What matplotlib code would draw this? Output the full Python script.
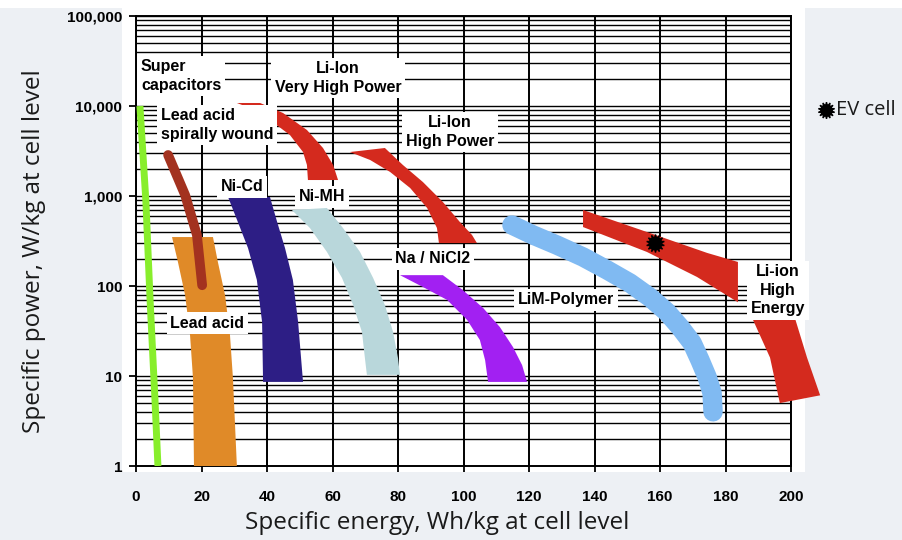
import numpy as np
import matplotlib.pyplot as plt
from matplotlib.patches import Rectangle
from matplotlib.ticker import LogLocator, NullFormatter

# Ragone chart: specific energy (Wh/kg) vs specific power (W/kg)
supercap_e = [1.2, 3.0, 4.3, 5.8, 6.7]
supercap_p = [10000, 900, 70, 5.4, 1]

spiral_e = [9.8, 15.0, 18.6, 20.2]
spiral_p = [2855, 1025, 369, 102]

lead_e = [11.0, 12.8, 15.0, 16.5, 17.4, 17.7, 30.8, 29.6, 28.7, 27.2, 25.0, 23.5]
lead_p = [350, 185, 79, 28.5, 9.5, 1, 1, 9.5, 28.5, 79, 185, 350]

nicd_e = [28.1, 31.1, 34.2, 36.9, 38.5, 38.8, 51.0, 49.5, 47.9, 45.5, 43.1, 40.9]
nicd_p = [975, 514, 264, 117, 39.8, 8.6, 8.6, 39.8, 117, 264, 514, 975]

nimh_e = [47.6, 53.1, 58.3, 62.9, 66.3, 69.0, 69.9, 70.5,
          80.6, 80.0, 78.5, 76.0, 72.4, 68.4, 63.2, 58.3]
nimh_p = [699, 441, 239, 123, 61.5, 30.8, 15.8, 10.3,
          10.3, 15.8, 30.8, 61.5, 123, 239, 441, 736]

vhp_e = [30.8, 37.9, 44.9, 52.2, 57.1, 60.2, 61.7, 52.5, 52.2, 51.0, 47.0, 40.9, 34.8]
vhp_p = [10800, 10800, 8360, 5410, 3415, 2210, 1505, 1505, 2210, 3080, 4760, 6990, 9500]

hp_e = [65.3, 76.0, 81.5, 87.6, 93.7, 98.9, 102.6, 104.1, 92.5, 91.9, 88.9, 83.7, 77.6, 71.5]
hp_p = [3080, 3415, 2210, 1430, 858, 514, 369, 300, 300, 441, 736, 1228, 1848, 2512]

nacl_e = [80.6, 93.7, 99.8, 106.0, 111.1, 115.1, 117.9, 119.4,
          107.5, 106.6, 105.0, 101.1, 95.0, 87.6]
nacl_p = [132, 132, 90, 57, 35, 21, 13.2, 8.6,
          8.6, 15, 25.1, 42, 70, 97.5]

lim_e = [114.8, 121.2, 128.5, 136.5, 143.8, 150.8, 156.9, 162.1, 166.1, 169.8, 172.2, 174.4, 175.9, 176.2]
lim_p = [476, 369, 285, 210, 151, 108, 75, 51.4, 35, 23.3, 15, 9.7, 6.5, 4.0]

he_top_e = [136.5, 156.9, 174.4, 183.8, 183.8, 171.3, 156.0, 136.5]
he_top_p = [699, 388, 233, 185, 66, 126, 239, 452]

he_low_e = [188.4, 201.2, 204.9, 208.9, 196.6, 193.6]
he_low_p = [42, 44, 16, 6.1, 5.0, 16]

ev_e, ev_p = 158.5, 300

x_ticks = list(range(0, 201, 20))
y_ticks = [1, 10, 100, 1000, 10000, 100000]
y_labels = ['1', '10', '100', '1,000', '10,000', '100,000']

labels = [
    ('Super\ncapacitors', 1.5, 21500, 'left'),
    ('Li-Ion\nVery High Power', 61.7, 20500, 'center'),
    ('Lead acid\nspirally wound', 7.6, 6150, 'left'),
    ('Li-Ion\nHigh Power', 95.9, 5140, 'center'),
    ('Ni-Cd', 32.4, 1260, 'center'),
    ('Ni-MH', 56.8, 975, 'center'),
    ('Na / NiCl2', 90.7, 200, 'center'),
    ('LiM-Polymer', 131.3, 70, 'center'),
    ('Lead acid', 21.7, 38.8, 'center'),
    ('Li-ion\nHigh\nEnergy', 196.0, 90, 'center'),
]

fig = plt.figure(figsize=(9.02, 5.4), dpi=100, facecolor='#edf0f4')
# white panel behind the chart
fig.patches.append(Rectangle((122 / 902, 1 - 472 / 540), (805 - 122) / 902, 472 / 540,
                             transform=fig.transFigure, facecolor='white', edgecolor='none', zorder=-10))
fig.patches.append(Rectangle((0, 1 - 8 / 540), 1, 8 / 540,
                             transform=fig.transFigure, facecolor='white', edgecolor='none', zorder=-10))

ax = fig.add_axes([136 / 902, 1 - 466 / 540, 655 / 902, 450 / 540])
ax.set_facecolor('white')
ax.set_yscale('log')
ax.set_xlim(0, 200)
ax.set_ylim(1, 100000)

ax.set_xticks(x_ticks)
ax.set_yticks(y_ticks)
ax.set_yticklabels(y_labels)
ax.yaxis.set_minor_locator(LogLocator(base=10, subs=np.arange(2, 10)))
ax.yaxis.set_minor_formatter(NullFormatter())
ax.tick_params(axis='y', which='minor', length=0)
ax.tick_params(axis='x', which='major', direction='inout', length=9, width=1.3, pad=13)
ax.tick_params(axis='y', which='major', direction='out', length=5, width=1.3, pad=5)
for lab in ax.get_xticklabels() + ax.get_yticklabels():
    lab.set_fontfamily('Liberation Sans')
    lab.set_fontweight('bold')
    lab.set_fontsize(11)

ax.grid(True, which='both', axis='y', color='black', lw=1.0)
ax.grid(True, which='major', axis='x', color='black', lw=1.4)
ax.set_axisbelow(True)
for s in ax.spines.values():
    s.set_linewidth(1.4)
    s.set_color('black')

# bands
ax.fill(lead_e, lead_p, color='#e08a28', zorder=3, lw=0)
ax.fill(nicd_e, nicd_p, color='#2d1e85', zorder=3, lw=0)
ax.fill(nimh_e, nimh_p, color='#b9d7db', zorder=3, lw=0)
ax.fill(vhp_e, vhp_p, color='#d42a1e', zorder=3, lw=0)
ax.fill(hp_e, hp_p, color='#d42a1e', zorder=3, lw=0)
ax.fill(nacl_e, nacl_p, color='#a220f2', zorder=3, lw=0)
ax.fill(he_top_e, he_top_p, color='#d42a1e', zorder=3, lw=0)
ax.fill(he_low_e, he_low_p, color='#d42a1e', zorder=3, lw=0, clip_on=False)

ax.plot(supercap_e, supercap_p, color='#88ee2c', lw=5, solid_capstyle='butt', zorder=4)
ax.plot(spiral_e, spiral_p, color='#a3321f', lw=7, solid_capstyle='round',
        solid_joinstyle='round', zorder=4)
ax.plot(lim_e, lim_p, color='#80baf2', lw=14, solid_capstyle='round',
        solid_joinstyle='round', zorder=4)

# EV cell point
ax.plot(ev_e, ev_p, marker=(14, 1, 0), ms=13, color='black', zorder=6)
ax.plot(ev_e, ev_p, marker='o', ms=9, color='black', zorder=6)

for txt, e, p, ha in labels:
    ax.text(e, p, txt, ha=ha, va='center', fontsize=11.5, fontweight='bold',
            family='Liberation Sans', linespacing=1.3, zorder=7,
            bbox=dict(facecolor='white', edgecolor='none', pad=2.5))

fig.text(437 / 902, 1 - 523 / 540, 'Specific energy, Wh/kg at cell level', ha='center', va='center',
         fontsize=17.5, family='Open Sans', color='#1a1a1a')
fig.text(34 / 902, 1 - 251 / 540, 'Specific power, W/kg at cell level', ha='center', va='center',
         rotation=90, fontsize=17.5, family='Open Sans', color='#1a1a1a')

# side legend entry
ax.plot([826 / 902], [1 - 110 / 540], transform=fig.transFigure, marker=(14, 1, 0), ms=12,
        color='black', clip_on=False)
ax.plot([826 / 902], [1 - 110 / 540], transform=fig.transFigure, marker='o', ms=8,
        color='black', clip_on=False)
fig.text(836 / 902, 1 - 110 / 540, 'EV cell', ha='left', va='center', fontsize=14.5,
         family='Open Sans', color='#1a1a1a')

fig.savefig('out.png', dpi=100, facecolor=fig.get_facecolor())
